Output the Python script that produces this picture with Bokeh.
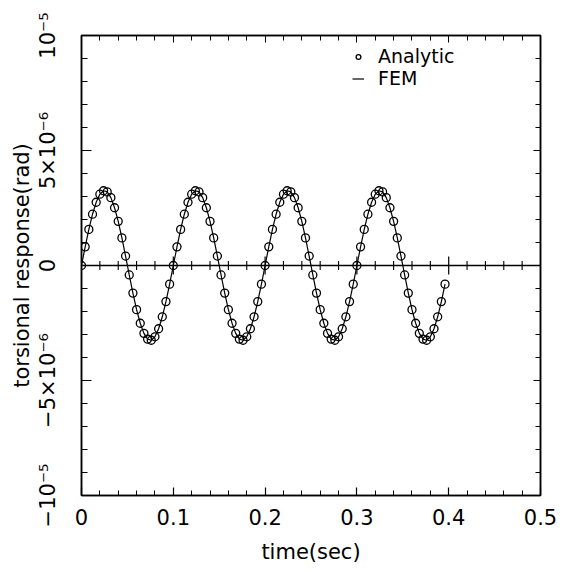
import math
from bokeh.plotting import figure
from bokeh.models import (FixedTicker, LinearAxis, Span, Legend, LegendItem,
                          Range1d, ColumnDataSource)
from bokeh.embed import file_html
from bokeh.resources import INLINE

# ---- data (response in units of 1e-6 rad) ----
time_s = [
    0.000, 0.004, 0.008, 0.012, 0.016, 0.020, 0.024, 0.028, 0.032, 0.036,
    0.040, 0.044, 0.048, 0.052, 0.056, 0.060, 0.064, 0.068, 0.072, 0.076,
    0.080, 0.084, 0.088, 0.092, 0.096, 0.100, 0.104, 0.108, 0.112, 0.116,
    0.120, 0.124, 0.128, 0.132, 0.136, 0.140, 0.144, 0.148, 0.152, 0.156,
    0.160, 0.164, 0.168, 0.172, 0.176, 0.180, 0.184, 0.188, 0.192, 0.196,
    0.200, 0.204, 0.208, 0.212, 0.216, 0.220, 0.224, 0.228, 0.232, 0.236,
    0.240, 0.244, 0.248, 0.252, 0.256, 0.260, 0.264, 0.268, 0.272, 0.276,
    0.280, 0.284, 0.288, 0.292, 0.296, 0.300, 0.304, 0.308, 0.312, 0.316,
    0.320, 0.324, 0.328, 0.332, 0.336, 0.340, 0.344, 0.348, 0.352, 0.356,
    0.360, 0.364, 0.368, 0.372, 0.376, 0.380, 0.384, 0.388, 0.392, 0.396,
]
analytic_urad = [
    0.00, 0.81, 1.57, 2.23, 2.75, 3.10, 3.25, 3.20, 2.95, 2.51,
    1.92, 1.20, 0.41, -0.41, -1.20, -1.92, -2.51, -2.95, -3.20, -3.25,
    -3.10, -2.75, -2.23, -1.57, -0.81,
    0.00, 0.81, 1.57, 2.23, 2.75, 3.10, 3.25, 3.20, 2.95, 2.51,
    1.92, 1.20, 0.41, -0.41, -1.20, -1.92, -2.51, -2.95, -3.20, -3.25,
    -3.10, -2.75, -2.23, -1.57, -0.81,
    0.00, 0.81, 1.57, 2.23, 2.75, 3.10, 3.25, 3.20, 2.95, 2.51,
    1.92, 1.20, 0.41, -0.41, -1.20, -1.92, -2.51, -2.95, -3.20, -3.25,
    -3.10, -2.75, -2.23, -1.57, -0.81,
    0.00, 0.81, 1.57, 2.23, 2.75, 3.10, 3.25, 3.20, 2.95, 2.51,
    1.92, 1.20, 0.41, -0.41, -1.20, -1.92, -2.51, -2.95, -3.20, -3.25,
    -3.10, -2.75, -2.23, -1.57, -0.81,
]
fem_urad = analytic_urad  # FEM curve coincides with analytic points

x_major = [0.0, 0.1, 0.2, 0.3, 0.4, 0.5]
x_minor = [0.02, 0.04, 0.06, 0.08, 0.12, 0.14, 0.16, 0.18, 0.22, 0.24, 0.26,
           0.28, 0.32, 0.34, 0.36, 0.38, 0.42, 0.44, 0.46, 0.48]
x_labels = {0.0: "0", 0.1: "0.1", 0.2: "0.2", 0.3: "0.3", 0.4: "0.4", 0.5: "0.5"}
y_major = [-10, -5, 0, 5, 10]
y_minor = [-9, -8, -7, -6, -4, -3, -2, -1, 1, 2, 3, 4, 6, 7, 8, 9]
y_labels = {-10: "−10⁻⁵", -5: "−5×10⁻⁶", 0: "0", 5: "5×10⁻⁶", 10: "10⁻⁵"}
zero_major = [0.1, 0.2, 0.3, 0.4]

FONT = "DejaVu Sans"
FS = "21px"

p = figure(width=557, height=575, x_range=Range1d(0, 0.5), y_range=Range1d(-10, 10),
           output_backend="svg", toolbar_location=None,
           min_border_left=81, min_border_right=17, min_border_top=35,
           min_border_bottom=80)
p.grid.visible = False
p.outline_line_color = "black"
p.outline_line_width = 1.5
p.background_fill_color = "white"

# bottom axis
xa = p.xaxis[0]
xa.ticker = FixedTicker(ticks=x_major, minor_ticks=x_minor)
xa.major_label_overrides = x_labels
xa.axis_label = "time(sec)"
xa.major_tick_in = 8
xa.major_tick_out = 0
xa.minor_tick_in = 5
xa.minor_tick_out = 0
xa.axis_line_width = 1.5
xa.major_label_standoff = 13
xa.axis_label_standoff = 12

# left axis
ya = p.yaxis[0]
ya.ticker = FixedTicker(ticks=y_major, minor_ticks=y_minor)
ya.major_label_overrides = y_labels
ya.major_label_orientation = "parallel"
ya.axis_label = "torsional response(rad)"
ya.major_tick_in = 10
ya.major_tick_out = 0
ya.minor_tick_in = 6
ya.minor_tick_out = 0
ya.axis_line_width = 1.5
ya.major_label_standoff = 22
ya.axis_label_standoff = -1

for ax in (xa, ya):
    ax.major_label_text_font = FONT
    ax.major_label_text_font_size = FS
    ax.axis_label_text_font = FONT
    ax.axis_label_text_font_size = FS
    ax.axis_label_text_font_style = "normal"
    ax.major_label_text_color = "black"
    ax.axis_label_text_color = "black"
    ax.major_tick_line_width = 1.2
    ax.minor_tick_line_width = 1.0

# top and right axes (ticks only, labels not drawn)
top = LinearAxis(ticker=FixedTicker(ticks=x_major, minor_ticks=x_minor),
                 major_label_text_color=None, major_label_text_font_size="2px",
                 major_tick_in=7, major_tick_out=0,
                 minor_tick_in=5, minor_tick_out=0, axis_line_width=1.5,
                 major_label_standoff=0)
right = LinearAxis(ticker=FixedTicker(ticks=y_major, minor_ticks=y_minor),
                   major_label_text_color=None, major_label_text_font_size="2px",
                   major_tick_in=7, major_tick_out=0,
                   minor_tick_in=5, minor_tick_out=0, axis_line_width=1.5,
                   major_label_standoff=0)
p.add_layout(top, "above")
p.add_layout(right, "right")

# zero line with ticks
p.add_layout(Span(location=0, dimension="width", line_color="black", line_width=1.3))
p.scatter(x=x_minor, y=[0] * len(x_minor), marker="dash", angle=math.pi / 2,
          size=9, line_color="black", line_width=1.1)
p.scatter(x=zero_major, y=[0] * len(zero_major), marker="dash", angle=math.pi / 2,
          size=18, line_color="black", line_width=1.2)

src = ColumnDataSource(dict(t=time_s, a=analytic_urad, f=fem_urad))
ln = p.line(x="t", y="f", source=src, line_color="black", line_width=1.2)
sc = p.scatter(x="t", y="a", source=src, marker="circle", size=8,
               fill_color=None, line_color="black", line_width=1.3)

common = dict(padding=0, margin=0, spacing=0, glyph_width=12, glyph_height=19,
              label_height=19, label_standoff=14, border_line_alpha=0,
              background_fill_alpha=0, label_text_font=FONT,
              label_text_font_size="19px", label_text_color="black")
leg1 = Legend(items=[LegendItem(label="Analytic", renderers=[sc])],
              location=(271, 428), **common)
leg2 = Legend(items=[LegendItem(label="FEM", renderers=[ln])],
              location=(271, 406), **common)
p.add_layout(leg1)
p.add_layout(leg2)

open("out.html", "w").write(file_html(p, INLINE))
